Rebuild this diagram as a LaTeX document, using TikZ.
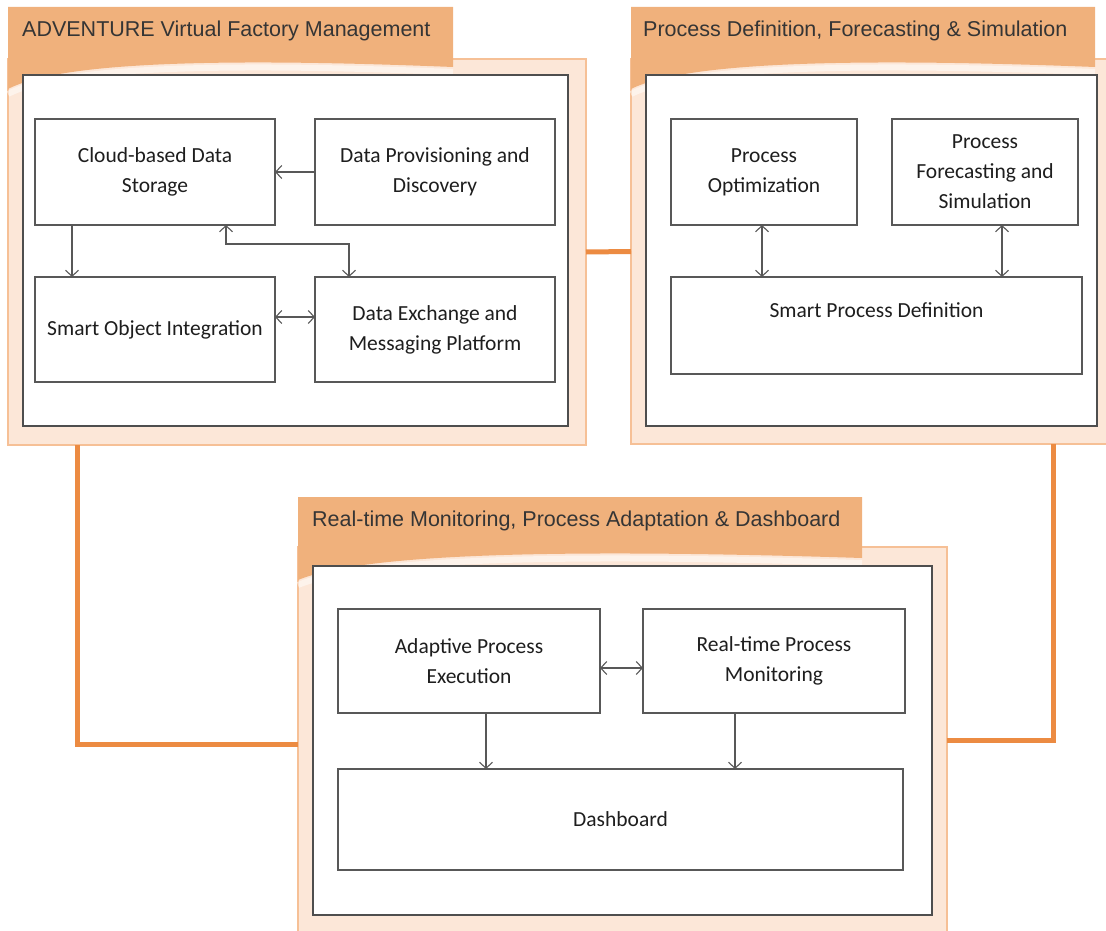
\documentclass[tikz,border=0pt]{standalone}
\usepackage{fontspec}
\setmainfont{Carlito}
\newfontfamily\titlefont{Liberation Sans}
\usetikzlibrary{arrows.meta}

\definecolor{taborange}{RGB}{240,177,124}
\definecolor{panelfill}{RGB}{252,231,216}
\definecolor{panelline}{RGB}{246,192,150}
\definecolor{linkorange}{RGB}{236,139,66}
\definecolor{boxline}{RGB}{88,88,88}
\definecolor{frameline}{RGB}{78,78,78}
\definecolor{ink}{RGB}{30,30,30}

\newcommand\blockfont{\fontsize{21.5pt}{30pt}\selectfont}
\newcommand\headfont{\titlefont\fontsize{21.5pt}{26pt}\selectfont}

% orange tab of a group: left, right, top, top edge of the white frame
\newcommand\drawtab[4]{%
  \fill[taborange] (#1,#3) -- (#2,#3) -- (#2,{#4-8})
    .. controls ({#1+0.5*(#2-#1)},{#4-17}) and ({#1+0.12*(#2-#1)},{#4-14}) .. (#1,{#4+14}) -- cycle;
  \draw[white, opacity=0.5, line width=6pt]
    (#1,{#4+19}) .. controls ({#1+0.12*(#2-#1)},{#4-9}) and ({#1+0.5*(#2-#1)},{#4-12}) .. (#2,{#4-3});
}

\begin{document}
\begin{tikzpicture}[x=1pt, y=-1pt,
  panel/.style={fill=panelfill, draw=panelline, line width=1.5pt, inner sep=0pt, outer sep=0pt},
  frame/.style={fill=white, draw=frameline, line width=1.6pt, inner sep=0pt, outer sep=0pt},
  block/.style={draw=boxline, line width=1.2pt, fill=white, align=center, text=ink,
                font=\blockfont, inner sep=0pt, outer sep=0pt},
  plain/.style={text=ink, font=\blockfont, inner sep=0pt},
  head/.style={text=ink!90, font=\headfont, anchor=west, inner sep=0pt},
  link/.style={draw=linkorange, line width=5pt},
  flow/.style={draw=boxline, line width=1.1pt, -{Straight Barb[length=6pt,width=13pt]}},
  both/.style={draw=boxline, line width=1.1pt,
               {Straight Barb[length=6pt,width=13pt]}-{Straight Barb[length=6pt,width=13pt]}}
]
\useasboundingbox (0,0) rectangle (1106,931);

% group panels
\node[panel, minimum width=578pt, minimum height=386pt] (p1) at (297,252) {};
\node[panel, minimum width=479pt, minimum height=385pt] (p2) at (870.5,251.5) {};
\node[panel, minimum width=649pt, minimum height=394pt] (p3) at (622.5,744) {};

% orange links between the groups
\draw[link] (p1.east) -- (p2.west);
\draw[link] ([xshift=69pt]p1.south west) |- (p3.west);
\draw[link] ([xshift=422pt]p2.south west) |- ([yshift=4pt]p3.east);

% tabs
\drawtab{8}{453}{7}{75}
\drawtab{631}{1095}{7}{75}
\drawtab{298}{862}{497}{566}

% white frames
\node[frame, minimum width=545pt, minimum height=351pt] (f1) at (295.5,250.5) {};
\node[frame, minimum width=451pt, minimum height=351pt] (f2) at (871.5,250.5) {};
\node[frame, minimum width=619pt, minimum height=349pt] (f3) at (622.5,740.5) {};

% group titles
\node[head] (h1) at (22,31) {ADVENTURE Virtual Factory Management};
\node[head] (h2) at (643,31) {Process Definition, Forecasting \& Simulation};
\node[head] (h3) at (312,521) {Real-time Monitoring, Process Adaptation \& Dashboard};

% virtual factory management
\node[block, minimum width=240pt, minimum height=106pt] (cloud) at (155,172) {Cloud-based Data\\Storage};
\node[block, minimum width=240pt, minimum height=106pt] (prov) at (435,172) {Data Provisioning and\\Discovery};
\node[block, minimum width=240pt, minimum height=105pt] (smart) at (155,329.5) {Smart Object Integration};
\node[block, minimum width=240pt, minimum height=105pt] (exch) at (435,329.5) {Data Exchange and\\Messaging Platform};

\draw[flow] (prov.west) -- (cloud.east);
\draw[flow] ([xshift=37pt]cloud.south west) -- ([xshift=37pt]smart.north west);
\draw[both] ([xshift=191pt]cloud.south west) -- ++(0,19) -| ([xshift=34pt]exch.north west);
\draw[both] ([yshift=12.5pt]smart.east) -- ([yshift=12.5pt]exch.west);

% process definition
\node[block, minimum width=186pt, minimum height=106pt] (opt) at (764,172) {Process\\Optimization};
\node[block, minimum width=186pt, minimum height=106pt] (fore) at (985,172) {Process\\Forecasting and\\Simulation};
\node[block, minimum width=411pt, minimum height=97pt] (spd) at (876.5,325.5) {};
\node[plain] (spdtext) at (876.5,310) {Smart Process Definition};

\draw[both] ([xshift=-2pt]opt.south) -- ([xshift=-2pt]opt.south |- spd.north);
\draw[both] ([xshift=17pt]fore.south) -- ([xshift=17pt]fore.south |- spd.north);

% monitoring and dashboard
\node[block, minimum width=262pt, minimum height=104pt] (ape) at (469,661) {Adaptive Process\\Execution};
\node[block, minimum width=262pt, minimum height=104pt] (rpm) at (774,661) {Real-time Process\\Monitoring};
\node[block, minimum width=565pt, minimum height=101pt] (dash) at (620.5,819.5) {Dashboard};

\draw[both] ([yshift=-7pt]ape.east) -- ([yshift=-7pt]rpm.west);
\draw[flow] ([xshift=17pt]ape.south) -- ([xshift=17pt]ape.south |- dash.north);
\draw[flow] ([xshift=-39pt]rpm.south) -- ([xshift=-39pt]rpm.south |- dash.north);
\end{tikzpicture}
\end{document}
